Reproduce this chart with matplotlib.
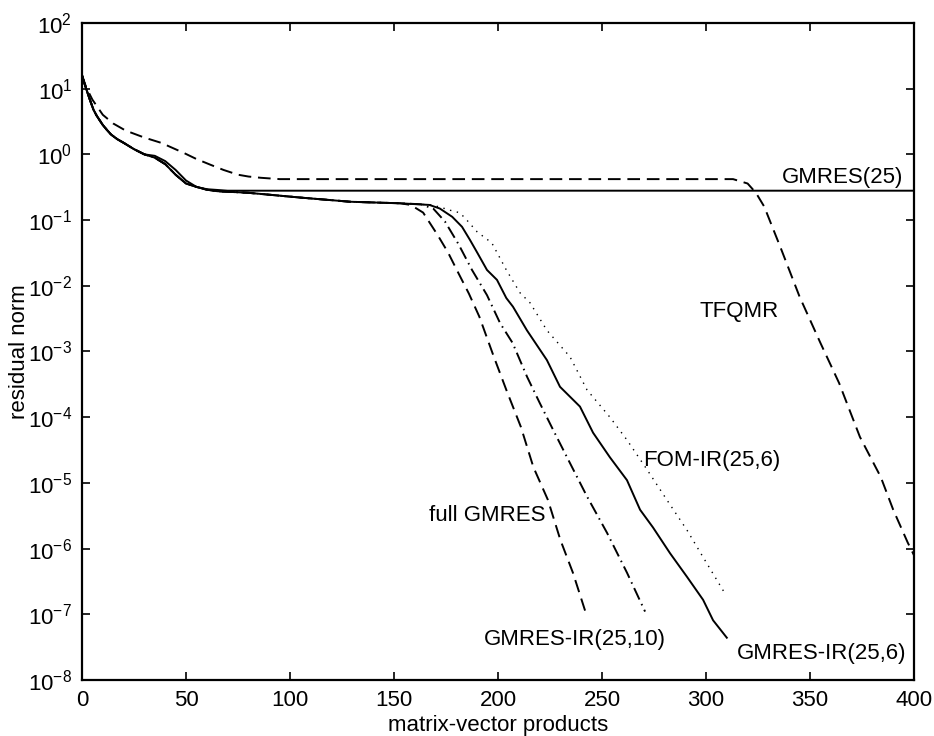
import matplotlib
matplotlib.use('Agg')
import numpy as np
import matplotlib.pyplot as plt

plt.rcParams['font.family'] = ['Liberation Sans', 'DejaVu Sans']
plt.rcParams['mathtext.fontset'] = 'custom'
plt.rcParams['mathtext.rm'] = 'Liberation Sans'
plt.rcParams['mathtext.it'] = 'Liberation Sans:italic'
plt.rcParams['font.size'] = 16

# shared start of the curves
common_x = [0, 1, 2, 3, 4, 5.5, 7, 8.5, 10, 12, 14, 17, 20, 25, 30, 35, 40, 45, 50, 55, 60,
            65, 80, 105, 129, 153]
common_res = [16, 12.5, 10, 8.0, 6.5, 4.8, 3.9, 3.3, 2.8, 2.35, 2.0, 1.7, 1.5, 1.2, 1.0,
              0.89, 0.71, 0.49, 0.36, 0.32, 0.29, 0.275, 0.26, 0.22, 0.19, 0.18]

gmres25_x = [0, 1, 2, 3, 4, 5.5, 7, 8.5, 10, 12, 14, 17, 20, 25, 30, 35, 40, 45, 50, 55,
             60, 70, 400]
gmres25_res = [16, 12.5, 10, 8.0, 6.5, 4.8, 3.9, 3.3, 2.8, 2.35, 2.0, 1.7, 1.5, 1.2, 1.0,
               0.95, 0.79, 0.58, 0.40, 0.32, 0.295, 0.28, 0.28]

tfqmr_x = [0, 2, 5, 10, 15, 21, 30, 38, 49, 55, 62, 68, 75, 80, 86, 95, 313, 320, 324,
           328, 336, 345, 355, 364, 374, 384, 390, 397, 400]
tfqmr_res = [16, 10.5, 6.8, 4.0, 2.95, 2.3, 1.8, 1.5, 1.05, 0.85, 0.69, 0.58, 0.49, 0.46,
             0.44, 0.42, 0.42, 0.36, 0.26, 0.16, 0.037, 6.8e-3, 1.35e-3, 3.3e-4, 5.0e-5,
             1.23e-5, 3.9e-6, 1.23e-6, 7.9e-7]

full_x = [158, 164, 171, 176, 181, 186, 191, 198, 204, 211, 217, 224, 230, 236, 242]
full_res = [0.17, 0.13, 0.059, 0.032, 0.0155, 7.6e-3, 3.4e-3, 8.3e-4, 2.6e-4, 7.1e-5,
            1.74e-5, 5.5e-6, 1.35e-6, 4.3e-7, 1.1e-7]

ir10_x = [163, 169, 174.5, 181, 187.5, 194.7, 201, 207, 214, 220, 226.4, 234.6, 242.8,
          252.4, 262, 270.7]
ir10_res = [0.174, 0.148, 0.095, 0.043, 0.0174, 7.2e-3, 2.7e-3, 1.35e-3, 4.1e-4, 1.66e-4,
            6.5e-5, 2.0e-5, 6.2e-6, 1.74e-6, 4.3e-7, 1.1e-7]

ir6_x = [167, 172, 178, 182.7, 186.5, 190, 194.7, 199.5, 204, 207.2, 213.9, 223.5, 229.8,
         239.4, 245.7, 253.8, 262, 268.3, 274.5, 282.7, 290.9, 298.6, 303.4, 310]
ir6_res = [0.17, 0.15, 0.112, 0.079, 0.050, 0.032, 0.0174, 0.0123, 6.5e-3, 4.8e-3, 2.1e-3,
           7.4e-4, 2.9e-4, 1.45e-4, 5.8e-5, 2.45e-5, 1.1e-5, 3.9e-6, 2.1e-6, 8.5e-7,
           3.7e-7, 1.66e-7, 8.1e-8, 4.4e-8]

fom_x = [168, 172, 177, 181.7, 185, 190, 197, 200, 204, 210.6, 215.4, 223.5, 234.6, 242.8,
         253.8, 262, 271.6, 281.2, 290.9, 298.6, 309]
fom_res = [0.17, 0.158, 0.141, 0.129, 0.10, 0.066, 0.045, 0.030, 0.0174, 7.8e-3, 5.5e-3,
           2.1e-3, 8.3e-4, 2.6e-4, 1.0e-4, 4.5e-5, 1.6e-5, 5.5e-6, 1.9e-6, 7.4e-7, 2.1e-7]

labels = ['GMRES(25)', 'TFQMR', 'FOM-IR(25,6)', 'full GMRES', 'GMRES-IR(25,10)', 'GMRES-IR(25,6)']
label_x = [395, 297, 270, 167, 193, 315]
label_y = [0.44, 4.0e-3, 2.2e-5, 3.2e-6, 4.1e-8, 2.5e-8]
label_ha = ['right', 'left', 'left', 'left', 'left', 'left']


def _join(tail_x, tail_res):
    return common_x + tail_x, common_res + tail_res


fig = plt.figure(figsize=(9.34, 7.36), dpi=100)
ax = fig.add_axes([0.0878, 0.0761, 0.8908, 0.8927])

lw = 1.4
ax.plot(gmres25_x, gmres25_res, color='black', lw=lw)
ax.plot(tfqmr_x, tfqmr_res, color='black', lw=lw, linestyle=(0, (6.5, 3.5)))
x, y = _join(full_x, full_res)
ax.plot(x, y, color='black', lw=lw, linestyle=(0, (6.5, 3.5)))
x, y = _join(ir10_x, ir10_res)
ax.plot(x, y, color='black', lw=lw, linestyle=(0, (6.5, 2.5, 0.8, 2.5)))
x, y = _join(ir6_x, ir6_res)
ax.plot(x, y, color='black', lw=lw)
x, y = _join(fom_x, fom_res)
ax.plot(x, y, color='black', lw=1.0, linestyle=(0, (1, 4)))

for txt, tx, ty, ha in zip(labels, label_x, label_y, label_ha):
    ax.text(tx, ty, txt, ha=ha, va='center', fontsize=16)

ax.set_yscale('log')
ax.set_xlim(0, 400)
ax.set_ylim(1e-8, 1e2)
ax.set_xticks(np.arange(0, 401, 50))
ax.set_yticks([10.0 ** k for k in range(-8, 3)])
ax.tick_params(which='both', direction='in', top=True, right=True, labelsize=16)
ax.tick_params(which='major', length=6, width=1.2, pad=7)
ax.tick_params(which='minor', length=3, width=1.0)
ax.tick_params(axis='x', which='minor', bottom=False, top=False)
for sp in ax.spines.values():
    sp.set_linewidth(1.6)

ax.set_xlabel('matrix-vector products', fontsize=16, labelpad=3)
ax.set_ylabel('residual norm', fontsize=16)
ax.yaxis.set_label_coords(-0.062, 0.5)

fig.savefig('out.png', dpi=100)
